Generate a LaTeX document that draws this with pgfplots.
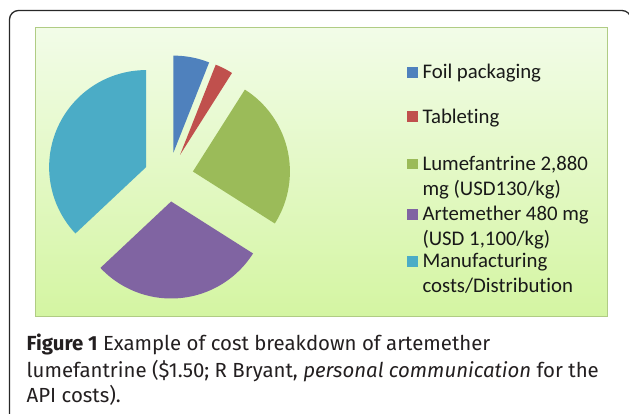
\documentclass[border=0pt]{standalone}
\usepackage{pgfplots}
\pgfplotsset{compat=1.18}
\usepackage{fontspec}
\setmainfont{Fira Sans}
\newfontfamily\legfont{Carlito}[Ligatures=NoCommon]
\definecolor{cFoil}{RGB}{79,129,189}
\definecolor{cTab}{RGB}{192,80,77}
\definecolor{cLume}{RGB}{155,187,89}
\definecolor{cArte}{RGB}{128,100,162}
\definecolor{cManu}{RGB}{75,172,198}
\definecolor{bgTop}{RGB}{242,252,232}
\definecolor{bgBot}{RGB}{212,245,162}
\definecolor{bgLine}{RGB}{176,204,132}
\definecolor{frameC}{RGB}{40,40,40}
\definecolor{capC}{RGB}{35,31,32}
% pie geometry (axis units = bp)
\def\pcx{133.3}\def\pcy{139.6}\def\pex{24.7}\def\pr{97}
\gdef\cum{0}
% #1 value (percent), #2 colour, #3 legend text
\newcommand\pieslice[3]{%
  \pgfmathsetmacro\sA{90-3.6*\cum}%
  \pgfmathsetmacro\newcum{\cum+#1}%
  \xdef\cum{\newcum}%
  \pgfmathsetmacro\eA{90-3.6*\cum}%
  \pgfmathsetmacro\mA{(\sA+\eA)/2}%
  \pgfmathsetmacro\ox{\pcx+\pex*cos(\mA)}%
  \pgfmathsetmacro\oy{\pcy+\pex*sin(\mA)}%
  \edef\doslice{\noexpand\addplot[fill=#2, draw=none, no markers, domain=0:1, samples=81, variable=\noexpand\t]
    ({\ox+((\noexpand\t<0.006)?0:\pr)*cos(\eA+(\noexpand\t-0.0125)*(\sA-\eA)/0.9875)},
     {\oy+((\noexpand\t<0.006)?0:\pr)*sin(\eA+(\noexpand\t-0.0125)*(\sA-\eA)/0.9875)});}%
  \doslice
  \addlegendentry{#3}%
}
\newcommand\legsize{\fontsize{20.8bp}{24.7bp}\selectfont}
\newcommand\capsize{\fontsize{20.4bp}{26bp}\selectfont}
\begin{document}
\begin{tikzpicture}[x=1bp,y=1bp]
\useasboundingbox (0,0) rectangle (629,413);
% outer frame
\draw[frameC, line width=1.3bp, rounded corners=9bp] (9.5,-20) -- (9.5,402.5) -- (631,402.5) -- (631,-20);
\begin{axis}[
  at={(35.5bp,96.5bp)}, anchor=south west,
  width=572bp, height=289bp, scale only axis,
  xmin=0, xmax=572, ymin=0, ymax=289,
  xtick=\empty, ytick=\empty,
  axis line style={draw=bgLine, line width=1.1bp},
  axis background/.style={top color=bgTop, bottom color=bgBot},
  legend cell align=left,
  legend image code/.code={\fill (0bp,-6.05bp) rectangle (10.5bp,-16.55bp);},
  legend style={draw=none, fill=none, inner sep=0pt, outer sep=0pt,
    row sep=0pt, column sep=5bp,
    at={(0.6495,0.8841)}, anchor=north west,
    nodes={inner sep=0pt, outer sep=0pt, align=left, text=black!90,
      text height=, text depth=, font=\legfont\legsize},
    cells={anchor=north west},
    font=\legfont\legsize},
]
\pieslice{6}{cFoil}{Foil packaging\rule[-26.3bp]{0pt}{44.3bp}}
\pieslice{3}{cTab}{Tableting\rule[-29.4bp]{0pt}{47.4bp}}
\pieslice{25}{cLume}{\rule[-6.7bp]{0pt}{24.7bp}Lumefantrine 2,880\\\rule[-7.6bp]{0pt}{25.6bp}mg (USD130/kg)}
\pieslice{29}{cArte}{\rule[-6.7bp]{0pt}{24.7bp}Artemether 480 mg\\\rule[-4.3bp]{0pt}{22.3bp}(USD 1,100/kg)}
\pieslice{37}{cManu}{\rule[-6.7bp]{0pt}{24.7bp}Manufacturing\\\rule[-6.7bp]{0pt}{24.7bp}costs/Distribution}
\end{axis}
% caption
\begin{scope}[every node/.style={anchor=base west, inner sep=0pt, text=capC, font=\capsize}]
\node at (26.5,62.3) {\textbf{Figure 1} Example of cost breakdown of artemether};
\node at (26.5,35.9) {lumefantrine (\$1.50; R Bryant, \textit{personal communication} for the};
\node at (26.5,10.3) {API costs).};
\end{scope}
\end{tikzpicture}
\end{document}
